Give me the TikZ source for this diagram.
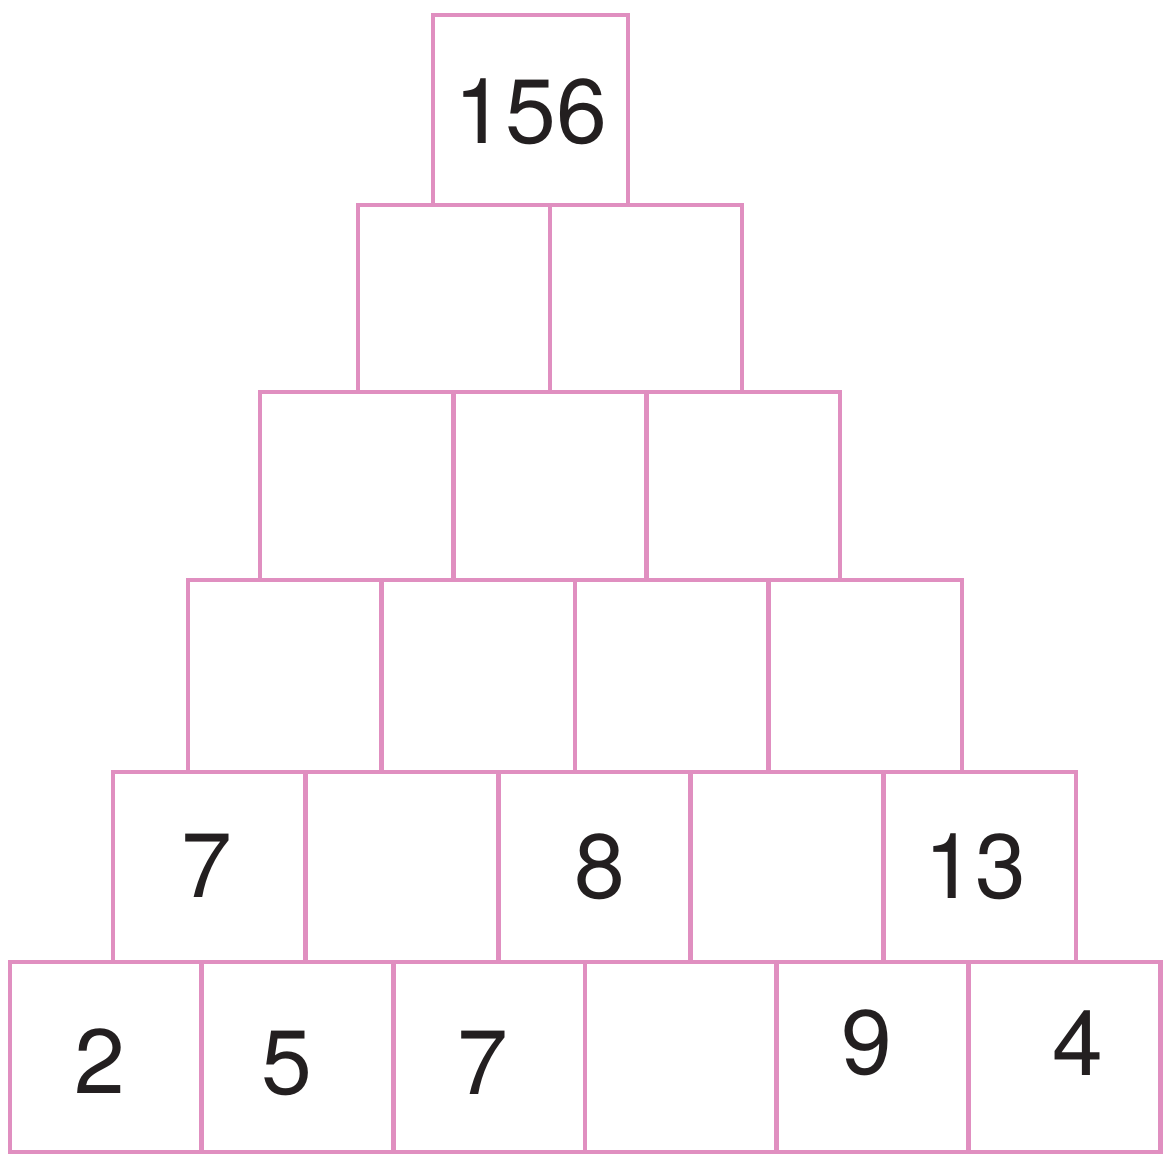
\documentclass[tikz,border=0pt]{standalone}
\usepackage{fontspec}
\setmainfont{TeX Gyre Heros}
\definecolor{brickpink}{HTML}{E08FC0}
\definecolor{inkgrey}{HTML}{231F20}

\begin{document}
\begin{tikzpicture}[x=0.02cm, y=-0.02cm,
  brick/.style={rectangle, draw=brickpink, line width=2.7pt, inner sep=0pt},
  num/.style={font=\fontsize{52}{60}\selectfont, text=inkgrey, inner sep=0pt}]
  \useasboundingbox (0,0) rectangle (1164,1157);
  % rows of the pyramid: row/boxes/left edge/box width/top/bottom
  \foreach \r/\n/\L/\w/\yt/\yb in {1/1/433/195/15/205, 2/2/358/192/205/392,
      3/3/260/193.3/392/580, 4/4/188/193.5/580/772,
      5/5/113/192.6/772/962, 6/6/10/191.7/962/1152}
    \foreach \i in {1,...,\n} {
      \pgfmathsetmacro\cx{\L+(\i-0.5)*\w}
      \pgfmathsetmacro\cy{(\yt+\yb)/2}
      \node[brick, minimum width={\w*0.02cm}, minimum height={(\yb-\yt)*0.02cm}]
        (r\r-\i) at (\cx,\cy) {};
    }
  % given numbers
  \node[num] (top) at (531,112) {156};
  \node[num] (n5-1) at (207,866) {7};
  \node[num] (n5-3) at (600,867) {8};
  \node[num] (n5-5) at (975,867) {13};
  \node[num] (n6-1) at (100,1061) {2};
  \node[num] (n6-2) at (287,1063) {5};
  \node[num] (n6-3) at (483,1063) {7};
  \node[num] (n6-5) at (867,1043) {9};
  \node[num] (n6-6) at (1078,1043) {4};
\end{tikzpicture}
\end{document}
